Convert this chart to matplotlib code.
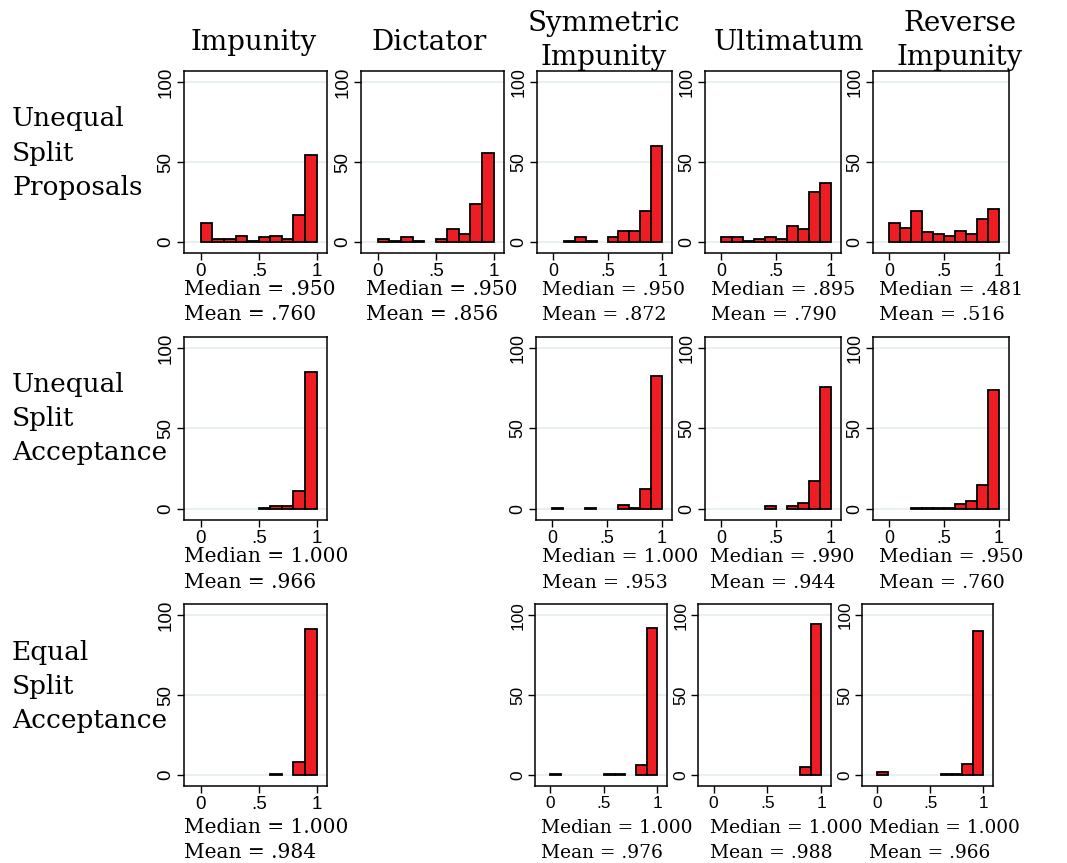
import matplotlib
matplotlib.use("Agg")
import matplotlib.pyplot as plt

W, H = 1067, 863

# 10 bins of width .1 on [0, 1]
bin_left = [0.0, 0.1, 0.2, 0.3, 0.4, 0.5, 0.6, 0.7, 0.8, 0.9]
bin_width = 0.1

col_titles = ["Impunity", "Dictator", "Symmetric\nImpunity", "Ultimatum", "Reverse\nImpunity"]
row_titles = ["Unequal\nSplit\nProposals", "Unequal\nSplit\nAcceptance", "Equal\nSplit\nAcceptance"]

# percent per bin (0 = no bar)
prop_impunity = [12, 1.5, 2, 3.8, 0.8, 3, 3.8, 1.5, 17, 54.6]
prop_dictator = [1.5, 0.8, 3, 0.8, 0, 1.5, 8, 5.2, 23.6, 55.4]
prop_symmetric = [0, 0.8, 3, 0.8, 0, 3, 6.7, 6.7, 19.2, 59.8]
prop_ultimatum = [3, 3, 0.8, 2, 3, 2, 9.6, 8, 31, 36.8]
prop_reverse = [12, 8.6, 19.2, 5.9, 4.6, 3.8, 6.7, 4.6, 14, 20.7]

uneq_impunity = [0, 0, 0, 0, 0, 0.6, 1.5, 1.5, 10.9, 85]
uneq_symmetric = [0.6, 0, 0, 0.6, 0, 0, 2.5, 0.6, 12.6, 82.6]
uneq_ultimatum = [0, 0, 0, 0, 1.5, 0, 1.5, 3.6, 17, 76]
uneq_reverse = [0, 0, 0.6, 0.6, 0.6, 0.6, 3, 5, 14.6, 73.8]

eq_impunity = [0, 0, 0, 0, 0, 0, 0.6, 0, 8.2, 91.2]
eq_symmetric = [0.6, 0, 0, 0, 0, 0.6, 0.6, 0, 5.9, 91.8]
eq_ultimatum = [0, 0, 0, 0, 0, 0, 0, 0, 5.2, 94.6]
eq_reverse = [1.5, 0, 0, 0, 0, 0, 0.6, 0.6, 6.5, 90.4]

medians = [[".950", ".950", ".950", ".895", ".481"],
           ["1.000", None, "1.000", ".990", ".950"],
           ["1.000", None, "1.000", "1.000", "1.000"]]
means = [[".760", ".856", ".872", ".790", ".516"],
         [".966", None, ".953", ".944", ".760"],
         [".984", None, ".976", ".988", ".966"]]

heights = [[prop_impunity, prop_dictator, prop_symmetric, prop_ultimatum, prop_reverse],
           [uneq_impunity, None, uneq_symmetric, uneq_ultimatum, uneq_reverse],
           [eq_impunity, None, eq_symmetric, eq_ultimatum, eq_reverse]]

# panel boxes in pixels: (left, top, right, bottom)
row_y = [(71, 253), (337, 520), (604, 786)]
col_x = [[(184, 327), (361, 504), (537, 672), (705, 841), (873, 1009)],
         [(184, 327), None, (536, 672), (705, 841), (873, 1009)],
         [(184, 327), None, (535, 667), (698, 831), (862, 993)]]
stat_x = [[184, 366, 542, 711, 879],
          [184, None, 542, 710, 879],
          [184, None, 541, 710, 869]]
stat_y = [(295, 320), (562, 588), (833, 858)]

BAR = "#EE1D24"
GRID = "#E8F0F2"
SERIF = "DejaVu Serif"
SANS = "Liberation Sans"

fig = plt.figure(figsize=(W / 100, H / 100), dpi=100)


def fx(px):
    return px / W


def fy(py):
    return 1 - py / H


for r in range(3):
    y0, y1 = row_y[r]
    for c in range(5):
        vals = heights[r][c]
        if vals is None:
            continue
        x0, x1 = col_x[r][c]
        # the narrower panels were shrunk a bit, text with them
        k = (x1 - x0) / 143
        ax = fig.add_axes([fx(x0), fy(y1), (x1 - x0) / W, (y1 - y0) / H])
        for g in [0, 50, 100]:
            ax.axhline(g, color=GRID, lw=1.5, zorder=0)
        lefts = [b for b, v in zip(bin_left, vals) if v > 0]
        hs = [v for v in vals if v > 0]
        ax.bar(lefts, hs, width=bin_width, align="edge", color=BAR,
               edgecolor="black", linewidth=1.3, zorder=2)
        ax.set_xlim(-0.145, 1.09)
        ax.set_ylim(-7, 107)
        ax.set_xticks([0, 0.5, 1])
        ax.set_xticklabels(["0", ".5", "1"])
        ax.set_yticks([0, 50, 100])
        ax.set_yticklabels(["0", "50", "100"], rotation=90, va="center")
        ax.tick_params(length=5, width=1, pad=2, labelsize=13.5 * k)
        for lab in ax.get_xticklabels() + ax.get_yticklabels():
            lab.set_fontfamily(SANS)
        for s in ax.spines.values():
            s.set_linewidth(1.1)
        sx = stat_x[r][c]
        fig.text(fx(sx), fy(stat_y[r][0]), "Median = " + medians[r][c],
                 family=SERIF, fontsize=14.5 * k, va="baseline", ha="left")
        fig.text(fx(sx), fy(stat_y[r][1]), "Mean = " + means[r][c],
                 family=SERIF, fontsize=14.5 * k, va="baseline", ha="left")

# column titles
title_cx = [254, 429, 604, 789, 960]
for c, t in enumerate(col_titles):
    lines = t.split("\n")
    ys = [50] if len(lines) == 1 else [31, 65]
    for line, yb in zip(lines, ys):
        fig.text(fx(title_cx[c]), fy(yb), line, family=SERIF, fontsize=20,
                 ha="center", va="baseline")

# row titles
row_base = [[126, 161, 195], [392, 426, 460], [660, 694, 728]]
for r, t in enumerate(row_titles):
    for line, yb in zip(t.split("\n"), row_base[r]):
        fig.text(fx(12), fy(yb), line, family=SERIF, fontsize=19,
                 ha="left", va="baseline")

fig.savefig("out.png", dpi=100)
